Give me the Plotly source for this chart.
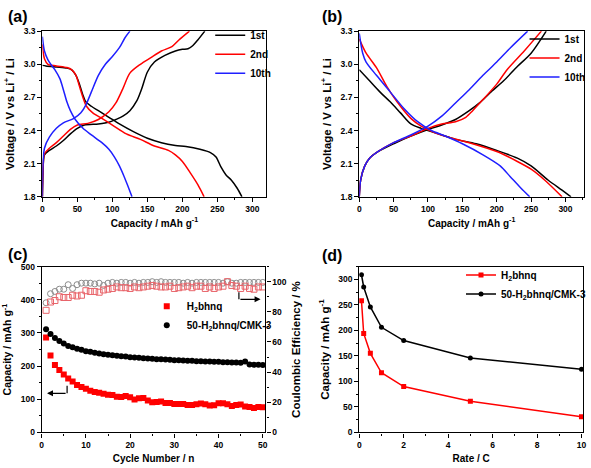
import plotly.graph_objects as go

# ---------------- Panel (a) data ----------------
a1_dis_cap = [0, 5, 20, 35, 42, 48, 53, 58, 62, 70, 80, 95, 110, 130, 150, 170, 190, 205, 225, 240, 248, 255, 262, 270, 278, 285]
a1_dis_v   = [2.99, 2.985, 2.975, 2.965, 2.95, 2.9, 2.82, 2.72, 2.66, 2.62, 2.58, 2.52, 2.46, 2.39, 2.33, 2.29, 2.265, 2.255, 2.23, 2.2, 2.16, 2.07, 2.0, 1.95, 1.88, 1.8]
a1_chg_cap = [0, 1, 3, 10, 20, 30, 40, 50, 60, 80, 95, 105, 115, 125, 135, 142, 150, 160, 175, 190, 200, 208, 215, 222, 232]
a1_chg_v   = [1.8, 2.02, 2.18, 2.22, 2.26, 2.31, 2.37, 2.42, 2.45, 2.46, 2.475, 2.5, 2.53, 2.58, 2.67, 2.78, 2.93, 3.02, 3.08, 3.12, 3.135, 3.14, 3.17, 3.22, 3.3]

a2_dis_cap = [0, 3, 8, 20, 35, 42, 48, 53, 58, 63, 72, 85, 100, 120, 140, 160, 180, 190, 200, 212, 222, 231]
a2_dis_v   = [3.18, 3.05, 3.0, 2.985, 2.97, 2.95, 2.9, 2.8, 2.7, 2.62, 2.56, 2.51, 2.45, 2.37, 2.32, 2.26, 2.22, 2.18, 2.12, 2.01, 1.91, 1.8]
a2_chg_cap = [0, 1, 3, 10, 20, 30, 40, 50, 65, 80, 95, 105, 115, 125, 140, 155, 170, 185, 195, 210]
a2_chg_v   = [1.8, 2.05, 2.19, 2.24, 2.29, 2.35, 2.41, 2.45, 2.465, 2.5, 2.57, 2.65, 2.78, 2.92, 3.0, 3.06, 3.12, 3.16, 3.22, 3.3]

a10_dis_cap = [0, 3, 8, 12, 18, 25, 30, 35, 40, 47, 58, 70, 85, 95, 103, 110, 117, 122, 128]
a10_dis_v   = [3.25, 3.12, 3.04, 3.0, 2.95, 2.87, 2.77, 2.66, 2.58, 2.5, 2.42, 2.36, 2.29, 2.23, 2.16, 2.08, 1.98, 1.9, 1.8]
a10_chg_cap = [0, 1, 3, 10, 20, 30, 45, 55, 62, 70, 80, 90, 100, 110, 118, 125]
a10_chg_v   = [1.8, 2.1, 2.24, 2.34, 2.42, 2.47, 2.51, 2.56, 2.63, 2.75, 2.9, 3.0, 3.07, 3.15, 3.24, 3.3]

# ---------------- Panel (b) data ----------------
b1_dis_cap = [0, 15, 30, 45, 60, 75, 90, 100, 120, 140, 170, 200, 230, 250, 275, 295, 308]
b1_dis_v   = [2.95, 2.85, 2.75, 2.66, 2.56, 2.46, 2.42, 2.4, 2.36, 2.32, 2.28, 2.22, 2.15, 2.08, 1.95, 1.86, 1.8]
b1_chg_cap = [0, 2, 8, 15, 25, 50, 75, 100, 120, 140, 160, 175, 190, 210, 230, 250, 272]
b1_chg_v   = [1.8, 1.95, 2.08, 2.15, 2.2, 2.28, 2.35, 2.41, 2.45, 2.5, 2.58, 2.65, 2.74, 2.85, 2.98, 3.1, 3.3]

b2_dis_cap = [0, 10, 25, 40, 55, 75, 90, 110, 130, 160, 200, 230, 250, 270, 295]
b2_dis_v   = [3.23, 3.1, 2.97, 2.8, 2.66, 2.51, 2.44, 2.38, 2.34, 2.29, 2.21, 2.12, 2.05, 1.95, 1.8]
b2_chg_cap = [0, 2, 8, 15, 25, 50, 75, 100, 120, 140, 155, 165, 180, 200, 215, 240, 265]
b2_chg_v   = [1.8, 1.95, 2.08, 2.15, 2.2, 2.29, 2.35, 2.42, 2.46, 2.48, 2.52, 2.58, 2.68, 2.82, 2.95, 3.12, 3.3]

b10_dis_cap = [0, 5, 10, 25, 45, 65, 85, 105, 125, 150, 180, 205, 220, 235, 248]
b10_dis_v   = [3.28, 3.1, 3.02, 2.9, 2.75, 2.6, 2.48, 2.4, 2.35, 2.28, 2.18, 2.08, 1.98, 1.88, 1.8]
b10_chg_cap = [0, 2, 8, 15, 25, 50, 75, 100, 120, 140, 160, 180, 200, 220, 245]
b10_chg_v   = [1.8, 1.95, 2.08, 2.15, 2.2, 2.29, 2.36, 2.44, 2.53, 2.65, 2.77, 2.9, 3.02, 3.15, 3.3]

# ---------------- Panel (c) data ----------------
cycles = [1, 2, 3, 4, 5, 6, 7, 8, 9, 10, 11, 12, 13, 14, 15, 16, 17, 18, 19, 20,
          21, 22, 23, 24, 25, 26, 27, 28, 29, 30, 31, 32, 33, 34, 35, 36, 37, 38, 39, 40,
          41, 42, 43, 44, 45, 46, 47, 48, 49, 50]
cap_h2 = [286, 232, 203, 188, 175, 163, 154, 143, 137, 132, 126, 122, 120, 117, 114, 113, 108, 107, 110, 106,
          99, 103, 104, 96, 91, 92, 93, 89, 89, 86, 86, 86, 83, 83, 85, 87, 85, 81, 82, 88,
          88, 85, 80, 83, 84, 78, 77, 74, 77, 76]
cap_cmk = [311, 297, 285, 276, 268, 261, 257, 252, 249, 245, 243, 240, 238, 236, 234, 233, 231, 230, 229, 227,
           226, 225, 224, 223, 222, 221, 221, 220, 219, 218, 218, 217, 216, 216, 215, 215, 214, 214, 213, 213,
           212, 212, 211, 211, 210, 214, 205, 204, 204, 203]
ce_h2 = [81, 86.5, 87.5, 90, 89.5, 89.5, 91, 90.5, 91, 94, 93.5, 93.5, 93, 94.5, 95, 95.5, 96.5, 96, 96, 95.5,
         96.5, 96, 96.5, 97, 97.5, 97, 96.5, 96.5, 97, 95.5, 96, 96.5, 97, 96, 97, 97, 95.5, 96.5, 95.5, 96.5,
         97, 100, 97.5, 97, 95.5, 97, 95.5, 95, 96.5, 96.5]
ce_cmk = [86, 92, 93.5, 95, 95, 98, 95.5, 98, 99, 99, 99, 98.5, 99, 97.5, 99, 99.5, 99, 99.5, 99.5, 99,
          99.5, 99, 99.5, 99.5, 100, 99.5, 100, 99.5, 99.5, 99.5, 99.5, 99, 99.5, 99, 99.5, 99.5, 99.5, 99.5, 99.5, 99.5,
          99, 100, 99, 99, 99.5, 99.5, 99.5, 99.5, 99.5, 99.5]

# ---------------- Panel (d) data ----------------
rates = [0.1, 0.2, 0.5, 1, 2, 5, 10]
rate_h2 = [258, 194, 155, 117, 90, 61, 31]
rate_cmk = [309, 285, 246, 206, 180, 146, 124]

FONT = "Liberation Sans"
W, H = 591, 468
BLACK, RED, BLUE = "#000000", "#FF0000", "#1F1FFF"

def px_x(p):
    return p / W

def px_y(p):
    return 1 - p / H

fig = go.Figure()

def curve(x, y, color, name, xa, ya, legend, show):
    fig.add_trace(go.Scatter(x=x, y=y, mode="lines", name=name, xaxis=xa, yaxis=ya,
                             line=dict(color=color, width=1.5, shape="spline", smoothing=0.8),
                             legend=legend, showlegend=show, legendgroup=legend + name))

curve(a1_dis_cap, a1_dis_v, BLACK, "1st", "x", "y", "legend", True)
curve(a1_chg_cap, a1_chg_v, BLACK, "1st", "x", "y", "legend", False)
curve(a2_dis_cap, a2_dis_v, RED, "2nd", "x", "y", "legend", True)
curve(a2_chg_cap, a2_chg_v, RED, "2nd", "x", "y", "legend", False)
curve(a10_dis_cap, a10_dis_v, BLUE, "10th", "x", "y", "legend", True)
curve(a10_chg_cap, a10_chg_v, BLUE, "10th", "x", "y", "legend", False)

curve(b1_dis_cap, b1_dis_v, BLACK, "1st", "x2", "y2", "legend2", True)
curve(b1_chg_cap, b1_chg_v, BLACK, "1st", "x2", "y2", "legend2", False)
curve(b2_dis_cap, b2_dis_v, RED, "2nd", "x2", "y2", "legend2", True)
curve(b2_chg_cap, b2_chg_v, RED, "2nd", "x2", "y2", "legend2", False)
curve(b10_dis_cap, b10_dis_v, BLUE, "10th", "x2", "y2", "legend2", True)
curve(b10_chg_cap, b10_chg_v, BLUE, "10th", "x2", "y2", "legend2", False)

# Panel (c)
fig.add_trace(go.Scatter(x=cycles, y=ce_cmk, mode="markers", xaxis="x3", yaxis="y5", showlegend=False,
                         marker=dict(symbol="circle-open", size=6, color="#8C8C8C", line=dict(width=1))))
fig.add_trace(go.Scatter(x=cycles, y=ce_h2, mode="markers", xaxis="x3", yaxis="y5", showlegend=False,
                         marker=dict(symbol="square-open", size=6, color="#E8646A", line=dict(width=1))))
fig.add_trace(go.Scatter(x=cycles, y=cap_h2, mode="markers", xaxis="x3", yaxis="y3", name="H<sub>2</sub>bhnq",
                         legend="legend3", marker=dict(symbol="square", size=6, color=RED)))
fig.add_trace(go.Scatter(x=cycles, y=cap_cmk, mode="markers", xaxis="x3", yaxis="y3", name="50-H<sub>2</sub>bhnq/CMK-3",
                         legend="legend3", marker=dict(symbol="circle", size=6, color=BLACK)))

# Panel (d)
fig.add_trace(go.Scatter(x=rates, y=rate_h2, mode="lines+markers", xaxis="x4", yaxis="y4", name="H<sub>2</sub>bhnq",
                         legend="legend4", line=dict(color=RED, width=1.5),
                         marker=dict(symbol="square", size=5, color=RED)))
fig.add_trace(go.Scatter(x=rates, y=rate_cmk, mode="lines+markers", xaxis="x4", yaxis="y4", name="50-H<sub>2</sub>bhnq/CMK-3",
                         legend="legend4", line=dict(color=BLACK, width=1.5),
                         marker=dict(symbol="circle", size=5, color=BLACK)))

tickfont = dict(family=FONT, size=8.5, color="black", weight="bold")

def axis(**kw):
    d = dict(showline=True, linecolor="black", linewidth=1.2, mirror=True, ticks="outside", ticklen=4,
             tickwidth=1, tickcolor="black", showgrid=False, zeroline=False, tickfont=tickfont,
             minor=dict(ticks="outside", ticklen=2, tickwidth=1, tickcolor="black"))
    title = kw.pop("title", None)
    tsize = kw.pop("tsize", 10)
    standoff = kw.pop("standoff", 6)
    if title is not None:
        d["title"] = dict(text=title, font=dict(family=FONT, size=tsize, color="black", weight="bold"), standoff=standoff)
    d.update(kw)
    return d

dom_a_x = [px_x(40.7), px_x(266.7)]
dom_b_x = [px_x(360.3), px_x(587)]
dom_top_y = [px_y(196), px_y(26.7)]
dom_c_x = [px_x(40), px_x(265.7)]
dom_d_x = [px_x(360.3), px_x(586)]
dom_bot_y = [px_y(436.8), px_y(267.3)]

cap_title = "Capacity / mAh g<sup>-1</sup>"
volt_title = "Voltage / V vs Li<sup>+</sup> / Li"

legfont = dict(family=FONT, size=10, color="black", weight="bold")

fig.update_layout(
    width=W, height=H, margin=dict(l=0, r=0, t=0, b=0),
    paper_bgcolor="white", plot_bgcolor="white",
    font=dict(family=FONT, color="black", weight="bold"),
    xaxis=axis(domain=dom_a_x, anchor="y", range=[0, 320], dtick=50, title=cap_title, tsize=10, standoff=6,
               minor_dtick=25),
    yaxis=axis(domain=dom_top_y, anchor="x", range=[1.8, 3.3], dtick=0.3, tickformat=".1f", title=volt_title,
               tsize=11.5, standoff=6, minor_dtick=0.15),
    xaxis2=axis(domain=dom_b_x, anchor="y2", range=[0, 327], dtick=50, title=cap_title, tsize=10, standoff=6,
                minor_dtick=25),
    yaxis2=axis(domain=dom_top_y, anchor="x2", range=[1.8, 3.3], dtick=0.3, tickformat=".1f", title=volt_title,
                tsize=11.5, standoff=6, minor_dtick=0.15),
    xaxis3=axis(domain=dom_c_x, anchor="y3", range=[0, 50.6], dtick=10, title="Cycle Number / n", tsize=10,
                standoff=6, minor_dtick=5),
    yaxis3=axis(domain=dom_bot_y, anchor="x3", range=[0, 500], dtick=100, title=cap_title, tsize=10.5,
                standoff=6, minor_dtick=50),
    yaxis5=dict(overlaying="y3", side="right", anchor="x3", range=[0, 110], dtick=20, showline=True,
                linecolor="black", linewidth=1.2, ticks="outside", ticklen=4, tickwidth=1, tickcolor="black",
                showgrid=False, zeroline=False, tickfont=tickfont,
                minor=dict(ticks="outside", ticklen=2, tickwidth=1, tickcolor="black", dtick=10),
                title=dict(text="Coulombic Efficiency / %", font=dict(family=FONT, size=11.5, color="black", weight="bold"),
                           standoff=6)),
    xaxis4=axis(domain=dom_d_x, anchor="y4", range=[0, 10.07], dtick=2, title="Rate / C", tsize=10,
                standoff=6, minor_dtick=1),
    yaxis4=axis(domain=dom_bot_y, anchor="x4", range=[0, 325], dtick=50, title=cap_title, tsize=11.5,
                standoff=6, minor_dtick=25),
    legend=dict(x=px_x(210), y=px_y(16), xanchor="left", yanchor="top", bgcolor="rgba(0,0,0,0)",
                font=legfont, itemwidth=30, tracegroupgap=0),
    legend2=dict(x=px_x(527), y=px_y(20), xanchor="left", yanchor="top", bgcolor="rgba(0,0,0,0)",
                 font=legfont, itemwidth=30, tracegroupgap=0),
    legend3=dict(x=px_x(146), y=px_y(293), xanchor="left", yanchor="top", bgcolor="rgba(0,0,0,0)",
                 font=legfont, itemwidth=30, tracegroupgap=0),
    legend4=dict(x=px_x(463), y=px_y(261), xanchor="left", yanchor="top", bgcolor="rgba(0,0,0,0)",
                 font=legfont, itemwidth=30, tracegroupgap=0),
)

# panel labels
for txt, x, y in [("(a)", 4, 12), ("(b)", 321, 12), ("(c)", 4, 255), ("(d)", 321, 256)]:
    fig.add_annotation(text=txt, x=px_x(x), y=px_y(y), xref="paper", yref="paper", xanchor="left",
                       yanchor="middle", showarrow=False,
                       font=dict(family=FONT, size=16, color="black", weight="bold"))

# guide arrows in panel (c)
fig.add_shape(type="line", xref="x3", yref="y3", x0=5.75, x1=5.75, y0=141, y1=118,
              line=dict(color="black", width=1.2))
fig.add_annotation(x=1.2, y=118, ax=5.75, ay=118, xref="x3", yref="y3", axref="x3", ayref="y3",
                   text="", showarrow=True, arrowhead=2, arrowsize=1, arrowwidth=1.2, arrowcolor="black")
fig.add_shape(type="line", xref="x3", yref="y5", x0=44.6, x1=44.6, y0=93, y1=88.3,
              line=dict(color="black", width=1.2))
fig.add_annotation(x=49.5, y=88.3, ax=44.6, ay=88.3, xref="x3", yref="y5", axref="x3", ayref="y5",
                   text="", showarrow=True, arrowhead=2, arrowsize=1, arrowwidth=1.2, arrowcolor="black")

fig.write_html("out.html", config={"displayModeBar": False},
               post_script="document.body.style.margin='0px';document.body.style.overflow='hidden';")
